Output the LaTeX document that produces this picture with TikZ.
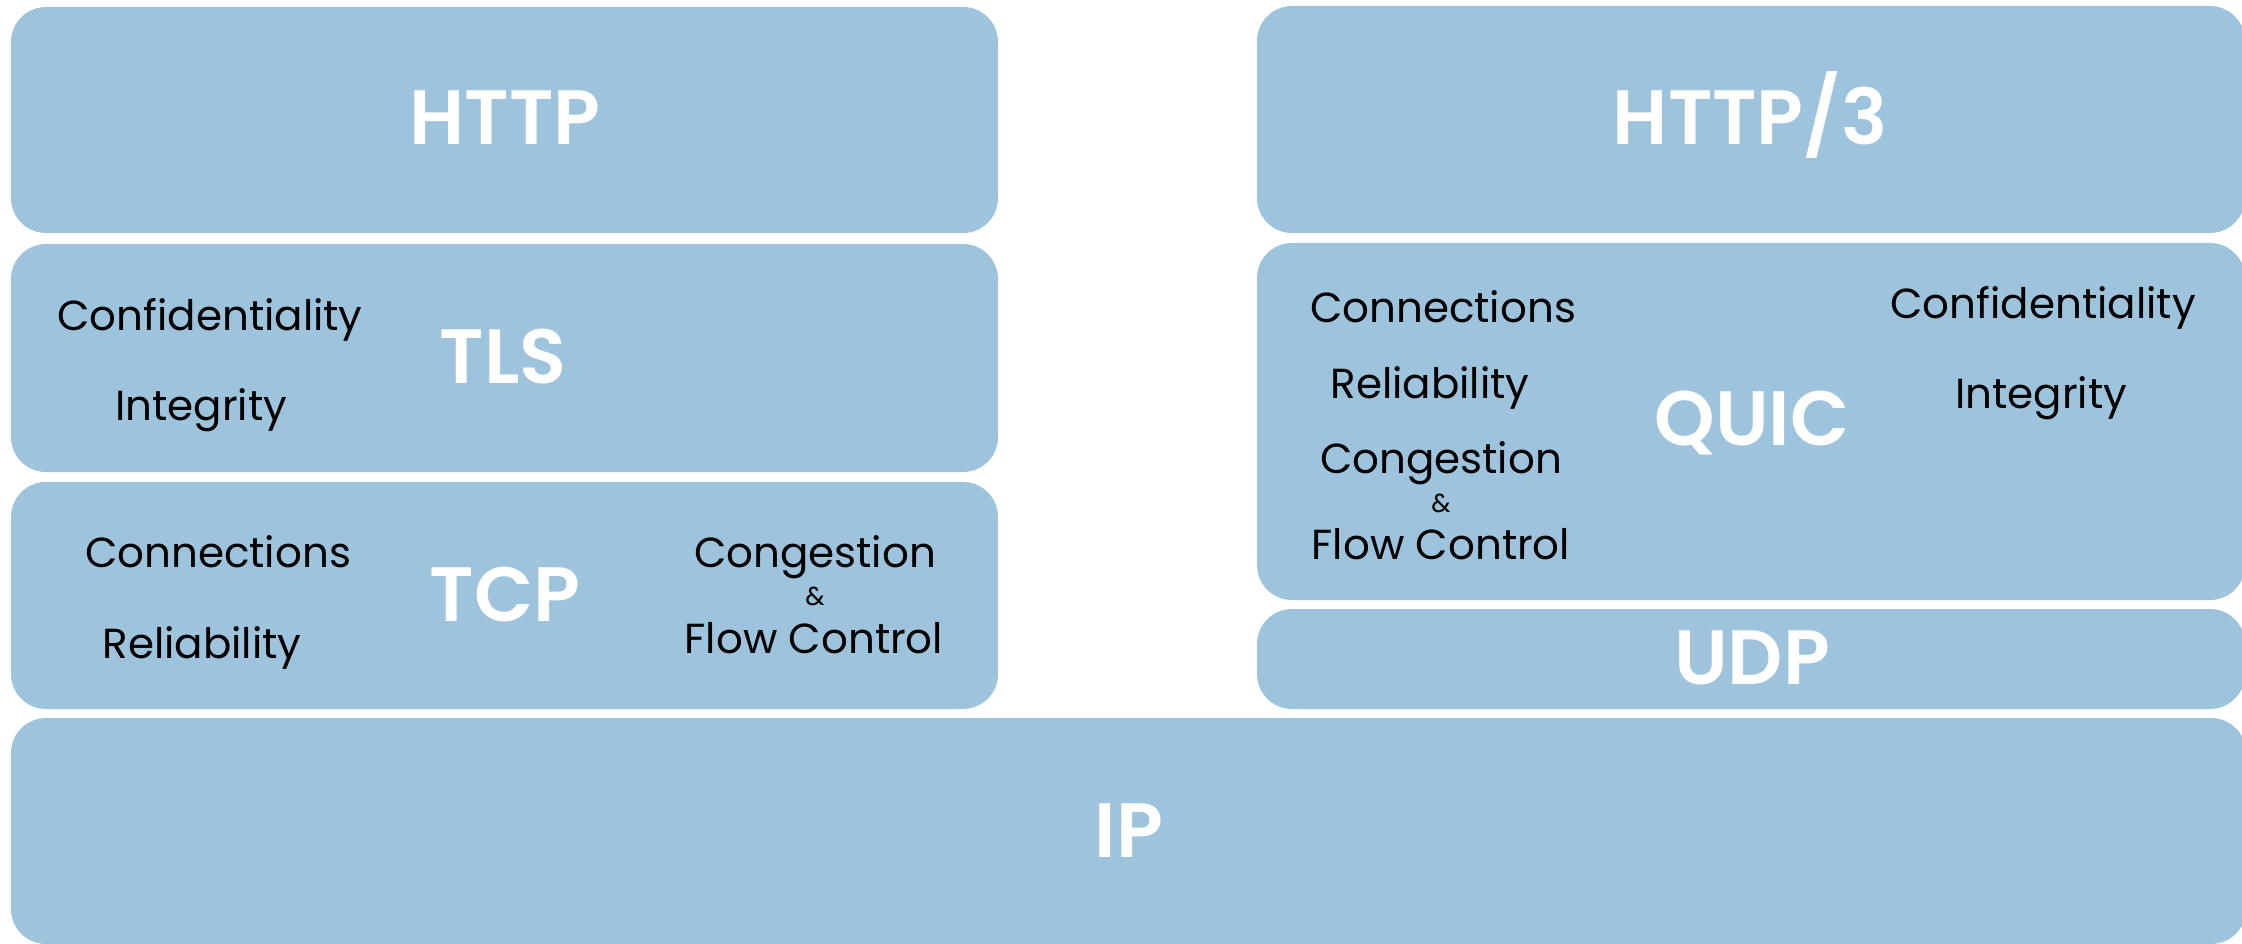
\documentclass[tikz,border=0pt]{standalone}
\usepackage{fontspec}
\setmainfont{Poppins}
\newfontfamily\layerfont{Poppins SemiBold}
\definecolor{layerblue}{RGB}{158,196,221}
\begin{document}
\begin{tikzpicture}[x=1pt,y=-1pt,
  layer/.style={fill=layerblue, rounded corners=35pt, inner sep=0pt, outer sep=0pt},
  title/.style={text=white, font=\fontsize{77}{77}\selectfont\layerfont, anchor=base, inner sep=0pt},
  item/.style={text=black, font=\fontsize{42}{42}\selectfont, anchor=base, inner sep=0pt},
  amp/.style={text=black, font=\fontsize{26}{26}\selectfont, anchor=base, inner sep=0pt}]
\useasboundingbox (0,0) rectangle (2242,944);
\clip (0,0) rectangle (2242,944);

% TCP/TLS stack
\node[layer, minimum width=987pt, minimum height=226pt] (http) at (504.5,120) {};
\node[layer, minimum width=987pt, minimum height=228pt] (tls) at (504.5,358) {};
\node[layer, minimum width=987pt, minimum height=227pt] (tcp) at (504.5,595.5) {};

% QUIC stack
\node[layer, minimum width=988pt, minimum height=227pt] (http3) at (1751,119.5) {};
\node[layer, minimum width=988pt, minimum height=357pt] (quic) at (1751,421.5) {};
\node[layer, minimum width=988pt, minimum height=100pt] (udp) at (1751,659) {};

% shared network layer
\node[layer, minimum width=2235pt, minimum height=226pt] (ip) at (1128.5,831) {};

% layer names
\node[title] (httpT) at (505,145) {HTTP};
\node[title] (tlsT) at (503,383) {TLS};
\node[title] (tcpT) at (505,621) {TCP};
\node[title] (ipT) at (1129,857) {IP};
\node[title] (http3T) at (1750,145) {HTTP/3};
\node[title] (quicT) at (1752,445) {QUIC};
\node[title] (udpT) at (1752,684) {UDP};

% TLS features
\node[item] (tlsConf) at (210,330) {Confidentiality};
\node[item] (tlsInt) at (201,420) {Integrity};

% TCP features
\node[item] (tcpConn) at (218,567) {Connections};
\node[item] (tcpRel) at (202,658) {Reliability};
\node[item] (tcpCong) at (815,567) {Congestion};
\node[amp] (tcpAmp) at (815,605) {\&};
\node[item] (tcpFlow) at (814,653) {Flow Control};

% QUIC features
\node[item] (qConn) at (1443,322) {Connections};
\node[item] (qRel) at (1430,398) {Reliability};
\node[item] (qCong) at (1441,473) {Congestion};
\node[amp] (qAmp) at (1441,512) {\&};
\node[item] (qFlow) at (1441,559) {Flow Control};
\node[item] (qConf) at (2043,318) {Confidentiality};
\node[item] (qInt) at (2041,408) {Integrity};
\end{tikzpicture}
\end{document}
